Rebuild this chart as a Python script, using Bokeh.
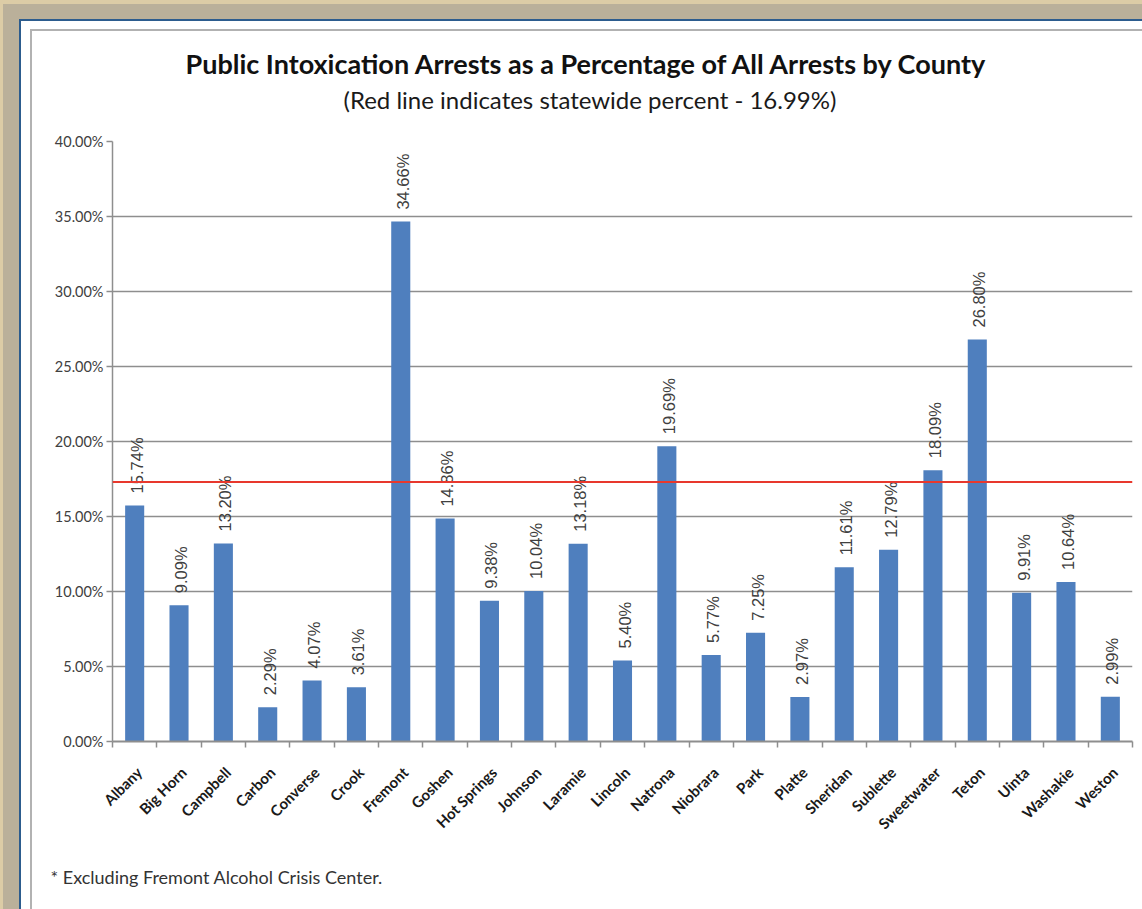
import math
from bokeh.plotting import figure
from bokeh.models import (Range1d, FixedTicker, PrintfTickFormatter, Span, Title,
                          CustomJSTickFormatter)
from bokeh.core.properties import value
from bokeh.embed import file_html
from bokeh.resources import INLINE

# ---- data ----
counties = ["Albany", "Big Horn", "Campbell", "Carbon", "Converse", "Crook", "Fremont",
            "Goshen", "Hot Springs", "Johnson", "Laramie", "Lincoln", "Natrona", "Niobrara",
            "Park", "Platte", "Sheridan", "Sublette", "Sweetwater", "Teton", "Uinta",
            "Washakie", "Weston"]
pct = [15.74, 9.09, 13.20, 2.29, 4.07, 3.61, 34.66, 14.86, 9.38, 10.04, 13.18, 5.40,
       19.69, 5.77, 7.25, 2.97, 11.61, 12.79, 18.09, 26.80, 9.91, 10.64, 2.99]
pct_labels = [f"{v:.2f}%" for v in pct]
y_ticks = [0, 5, 10, 15, 20, 25, 30, 35, 40]
statewide_line = 17.3

title_text = "Public Intoxication Arrests as a Percentage of All Arrests by County"
subtitle_text = "(Red line indicates statewide percent - 16.99%)"
footnote_text = "* Excluding Fremont Alcohol Crisis Center."

# ---- figure ----
n = len(counties)
x_pos = [i + 0.5 for i in range(n)]          # category centres
x_bounds = list(range(n + 1))                # category boundaries
label_shift = 0.1                            # labels sit slightly right of centre

p = figure(width=1142, height=909, output_backend="svg", toolbar_location=None,
           x_range=Range1d(0, n), y_range=Range1d(0, 40),
           min_border_left=112, min_border_right=10, min_border_top=141, min_border_bottom=168)

p.border_fill_alpha = 0
p.background_fill_color = "white"
p.outline_line_color = None
p.styles = {
    "background": (
        "linear-gradient(#ffffff,#ffffff) 32px 31px/100% 100% no-repeat, "
        "linear-gradient(#b2b2b2,#b2b2b2) 30px 29px/100% 100% no-repeat, "
        "linear-gradient(#ffffff,#ffffff) 21px 21px/100% 100% no-repeat, "
        "linear-gradient(#2c5c8e,#2c5c8e) 19px 19px/100% 100% no-repeat, "
        "linear-gradient(#bab09a,#bab09a) 3px 4px/100% 100% no-repeat, "
        "#dccca6"
    )
}

grid_gray = "#8e8e8e"

# bars
p.vbar(x=x_pos, top=pct, width=0.43, fill_color="#4f7fbe", line_color=None)

# data labels
p.text(x=x_pos, y=pct, text=pct_labels, angle=math.pi / 2, text_align="left",
       text_baseline="middle", y_offset=-12, x_offset=2,
       text_font=value("Liberation Sans"), text_font_size="16.5px", text_color="#404040")

# statewide line
p.add_layout(Span(location=statewide_line, dimension="width", line_color="#e8382d",
                  line_width=2))

# y axis
yax = p.yaxis[0]
yax.ticker = FixedTicker(ticks=y_ticks)
yax.formatter = PrintfTickFormatter(format="%.2f%%")
yax.axis_line_color = grid_gray
yax.axis_line_width = 1.5
yax.major_tick_line_color = grid_gray
yax.major_tick_line_width = 1.5
yax.major_tick_out = 6
yax.major_tick_in = 0
yax.minor_tick_line_color = None
yax.major_label_standoff = 3
yax.major_label_text_font = "Lato"
yax.major_label_text_font_size = "14.5px"
yax.major_label_text_color = "#404040"

p.ygrid.ticker = FixedTicker(ticks=y_ticks)
p.ygrid.grid_line_color = grid_gray
p.ygrid.grid_line_width = 1.5
p.xgrid.grid_line_color = None

# x axis: labels near category centres, tick marks at category boundaries
xax = p.xaxis[0]
xax.ticker = FixedTicker(ticks=[x + label_shift for x in x_pos], minor_ticks=x_bounds)
xax.formatter = CustomJSTickFormatter(args=dict(names=counties),
                                      code="const i = Math.floor(tick); return (i >= 0 && i < names.length) ? names[i] : '';")
xax.axis_line_color = grid_gray
xax.axis_line_width = 2
xax.major_tick_line_color = None
xax.major_tick_out = 0
xax.major_tick_in = 0
xax.minor_tick_line_color = grid_gray
xax.minor_tick_line_width = 1.5
xax.minor_tick_out = 6
xax.minor_tick_in = 0
xax.major_label_orientation = math.pi / 4
xax.major_label_standoff = 22
xax.major_label_text_font = "Lato"
xax.major_label_text_font_style = "bold"
xax.major_label_text_font_size = "15px"
xax.major_label_text_color = "#1a1a1a"

# titles: a thin spacer next to the frame, then subtitle, then main title
p.title.text = ""
p.add_layout(Title(text=" ", standoff=23, text_font_size="1px"), "above")
p.add_layout(Title(text=subtitle_text, align="left", offset=231, standoff=4,
                   text_font="Lato", text_font_style="normal", text_font_size="24px",
                   text_color="#1a1a1a"), "above")
p.add_layout(Title(text=title_text, align="left", offset=73, standoff=2,
                   text_font="Lato", text_font_style="bold", text_font_size="27px",
                   text_color="#111111"), "above")
p.add_layout(Title(text=footnote_text, align="left", offset=-62, standoff=44,
                   text_font="Lato", text_font_style="normal", text_font_size="18px",
                   text_color="#333333"), "below")

open("out.html", "w").write(file_html(p, INLINE))
